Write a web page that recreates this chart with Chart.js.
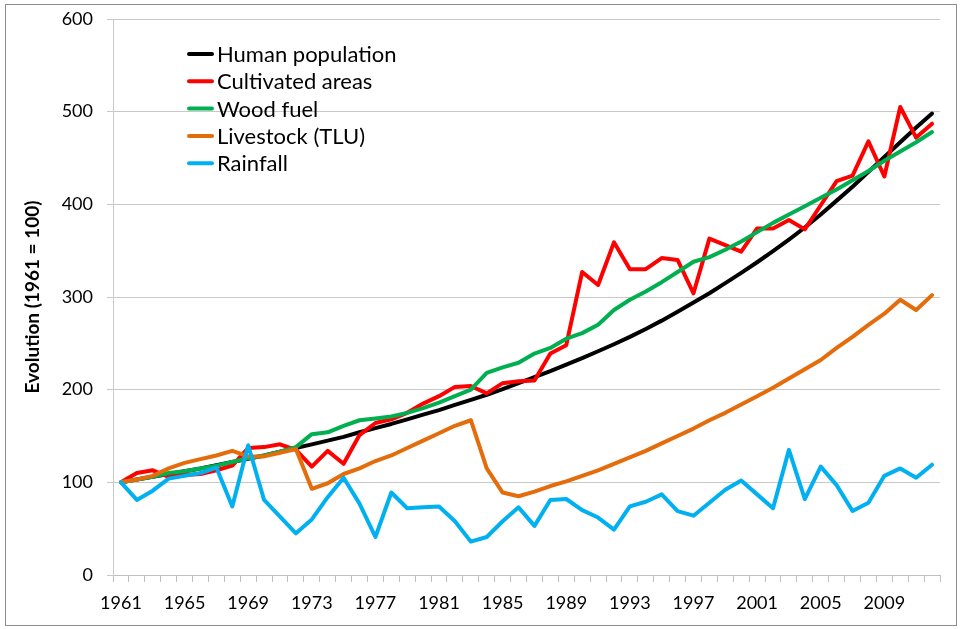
<!DOCTYPE html>
<html>
<head>
<meta charset="utf-8">
<script src="https://cdn.jsdelivr.net/npm/chart.js@4.4.0/dist/chart.umd.min.js"></script>
<style>
  html, body { margin: 0; padding: 0; background: #fff; }
  #wrap { position: relative; width: 960px; height: 629px; }
  #frame { position: absolute; left: 5px; top: 4px; width: 950px; height: 620px; border: 1px solid #8c8c8c; pointer-events: none; }
</style>
</head>
<body>
<div id="wrap">
  <canvas id="myChart" width="960" height="629"></canvas>
  <div id="frame"></div>
</div>
<script>
const years = [1961, 1962, 1963, 1964, 1965, 1966, 1967, 1968, 1969, 1970,
  1971, 1972, 1973, 1974, 1975, 1976, 1977, 1978, 1979, 1980,
  1981, 1982, 1983, 1984, 1985, 1986, 1987, 1988, 1989, 1990,
  1991, 1992, 1993, 1994, 1995, 1996, 1997, 1998, 1999, 2000,
  2001, 2002, 2003, 2004, 2005, 2006, 2007, 2008, 2009, 2010,
  2011, 2012];

const population = [100, 103, 106, 109, 112, 115, 118.5, 122, 125.5, 129,
  133, 137, 141, 145, 149, 154, 158.5, 163, 168, 173,
  178, 183.5, 189, 194.5, 200.5, 207, 213.5, 220, 227, 234,
  241.5, 249, 257, 265.5, 274.5, 284, 294, 304, 315, 326,
  337.5, 349.5, 362, 375, 389, 404, 419, 435, 451, 467,
  483, 498];

const cultivated = [100, 110, 113, 106, 108, 109, 113, 118, 137, 138,
  141, 135, 117, 134, 120, 151, 164, 168, 175, 185,
  193, 203, 204, 196, 207, 209, 210, 239, 248, 327,
  313, 359, 330, 330, 342, 340, 304, 363, 356, 349,
  374, 374, 383, 373, 399, 425, 431, 468, 430, 505,
  472, 487];

const woodFuel = [100, 103, 106, 110, 112, 115, 118, 122, 126, 129,
  133, 138, 152, 154, 161, 167, 169, 171, 175, 180,
  186, 193, 200, 218, 224, 229, 239, 245, 255, 261,
  270, 286, 297, 306, 316, 327, 338, 343, 351, 360,
  370, 380, 389, 398, 407, 416, 426, 436, 447, 457,
  467, 478];

const livestock = [100, 103, 107, 115, 121, 125, 129, 134, 128, 128,
  132, 136, 93, 99, 109, 115, 123, 129, 137, 145,
  153, 161, 167, 115, 89, 85, 90, 96, 101, 107,
  113, 120, 127, 134, 142, 150, 158, 167, 175, 184,
  193, 202, 212, 222, 232, 245, 257, 270, 282, 297,
  286, 302];

const rainfall = [100, 81, 91, 104, 107, 110, 116, 74, 140, 81,
  63, 45, 60, 84, 105, 77, 41, 89, 72, 73,
  74, 58, 36, 41, 58, 73, 53, 81, 82, 70,
  62, 49, 74, 79, 87, 69, 64, 78, 92, 102,
  87, 72, 135, 82, 117, 97, 69, 78, 107, 115,
  105, 119];

const seriesNames = ['Human population', 'Cultivated areas', 'Wood fuel', 'Livestock (TLU)', 'Rainfall'];
const seriesColors = ['#000000', '#ff0000', '#00b050', '#e46c0a', '#00b0f0'];
const seriesData = [population, cultivated, woodFuel, livestock, rainfall];

const yTitle = 'Evolution (1961 = 100)';

// legend drawn inside the plot, like the Excel original
const insideLegend = {
  id: 'insideLegend',
  afterDatasetsDraw(chart) {
    const c = chart.ctx;
    c.save();
    c.font = '22px Lato';
    c.textBaseline = 'middle';
    c.lineWidth = 4;
    c.lineCap = 'round';
    chart.data.datasets.forEach((ds, i) => {
      const y = 54 + i * 27.3;
      c.strokeStyle = ds.borderColor;
      c.beginPath();
      c.moveTo(189, y);
      c.lineTo(212, y);
      c.stroke();
      c.fillStyle = '#000';
      c.fillText(ds.label, 217, y + 1);
    });
    c.restore();
  }
};

const ctx = document.getElementById('myChart');

new Chart(ctx, {
  type: 'line',
  data: {
    labels: years,
    datasets: seriesData.map((d, i) => ({
      label: seriesNames[i],
      data: d,
      borderColor: seriesColors[i],
      backgroundColor: seriesColors[i],
      borderWidth: 4,
      pointRadius: 0,
      fill: false,
      tension: 0,
      borderJoinStyle: 'round',
      borderCapStyle: 'round',
      order: seriesData.length - i
    }))
  },
  options: {
    responsive: false,
    animation: false,
    layout: { padding: { top: 19, right: 20, bottom: 0, left: 0 } },
    plugins: {
      legend: { display: false },
      tooltip: { enabled: false }
    },
    scales: {
      x: {
        offset: true,
        grid: { offset: true, drawOnChartArea: false, drawTicks: true, tickLength: 7, color: '#bfbfbf' },
        border: { color: '#bfbfbf' },
        ticks: {
          autoSkip: false,
          maxRotation: 0,
          padding: 10,
          color: '#000',
          font: { family: 'Lato', size: 18 },
          callback: (v, i) => (i % 4 === 0 ? years[i] : '')
        },
        afterFit: s => { s.height = 54; }
      },
      y: {
        min: 0,
        max: 600,
        ticks: { stepSize: 100, padding: 14, color: '#000', font: { family: 'Lato', size: 18 } },
        grid: { color: '#c8c8c8', tickLength: 6 },
        border: { color: '#c8c8c8' },
        title: {
          display: true,
          text: yTitle,
          color: '#000',
          font: { family: 'Lato', size: 19, weight: 'bold' },
          padding: { top: 21, bottom: 0 }
        },
        afterFit: s => { s.width = 113; s.paddingTop = 0; s.paddingBottom = 0; }
      }
    }
  },
  plugins: [insideLegend]
});
</script>
</body>
</html>
